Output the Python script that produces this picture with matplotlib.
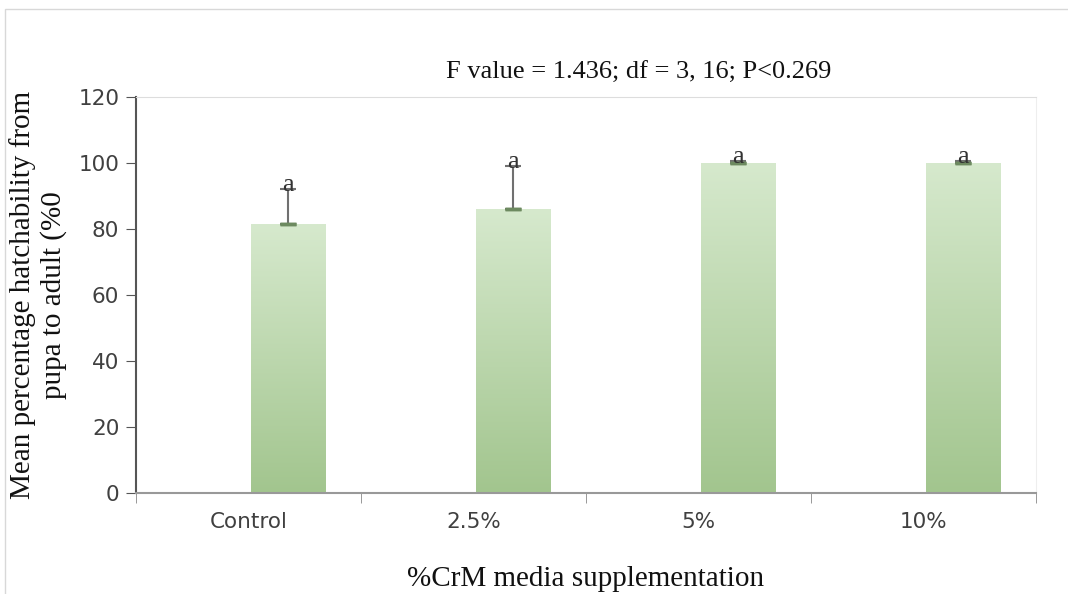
import numpy as np
import matplotlib.pyplot as plt
from matplotlib.colors import LinearSegmentedColormap
from matplotlib.patches import Rectangle

categories = ["Control", "2.5%", "5%", "10%"]
means = [81.5, 86.0, 100.0, 100.0]
errors = [10.5, 13.0, 0.6, 0.6]
letters = ["a", "a", "a", "a"]
yticks = [0, 20, 40, 60, 80, 100, 120]

fig = plt.figure(figsize=(10.68, 5.94), dpi=100)
ax = fig.add_axes([0.1273, 0.170, 0.8427, 0.6667])

# faint outer frame
fig.patches.append(Rectangle((5 / 1068, -0.1), 1.2, 1 - 9 / 594 + 0.1,
                             transform=fig.transFigure, fill=False,
                             edgecolor="#d8d8d8", linewidth=1.0))

x = np.arange(len(categories))
# bars sit right of the category centre (empty second series in the original)
bx = x + 0.175
bars = ax.bar(bx, means, width=0.33, color="none", edgecolor="none", zorder=2)

cmap = LinearSegmentedColormap.from_list("grn", ["#a2c58e", "#d6e9cd"])
grad = np.linspace(0, 1, 256).reshape(-1, 1)
for b in bars:
    im = ax.imshow(grad, cmap=cmap, origin="lower", aspect="auto",
                   extent=[b.get_x(), b.get_x() + b.get_width(), 0, b.get_height()],
                   zorder=2)
    im.set_clip_path(b)

ax.errorbar(bx, means, yerr=[np.zeros(len(means)), errors], fmt="none",
            ecolor="#707070", elinewidth=1.5, capsize=6, capthick=1.5, zorder=3)
ax.errorbar(bx, means, yerr=[np.zeros(len(means)), np.zeros(len(means))], fmt="none",
            ecolor="#6d8a60", elinewidth=0, capsize=6, capthick=2.5, zorder=3)

for xi, m, e, lab in zip(bx, means, errors, letters):
    ax.text(xi, m + e - 2.0, lab, ha="center", va="bottom", fontsize=19,
            family="Liberation Serif", color="#333333", zorder=4)

ax.set_xlim(-0.5, len(categories) - 0.5)
ax.set_ylim(0, 120)
ax.set_yticks(yticks)
ax.set_xticks(x)
ax.set_xticklabels(categories)
ax.set_xticks(np.arange(len(categories) + 1) - 0.5, minor=True)
ax.tick_params(axis="x", which="major", length=0, pad=14, labelsize=15.5, labelcolor="#404040")
ax.tick_params(axis="x", which="minor", length=7, color="#888888", direction="out")
ax.tick_params(axis="y", length=7, color="#555555", labelsize=15.5, labelcolor="#404040", pad=5)

ax.spines["left"].set_color("#555555")
ax.spines["left"].set_linewidth(1.5)
ax.spines["bottom"].set_color("#999999")
ax.spines["bottom"].set_linewidth(1.5)
ax.spines["top"].set_color("#dddddd")
ax.spines["right"].set_color("#eeeeee")

ax.set_title("F value = 1.436; df = 3, 16; P<0.269", family="Liberation Serif",
             fontsize=19, pad=13, color="#111111", x=0.559)
ax.set_xlabel("%CrM media supplementation", family="Liberation Serif",
              fontsize=21, labelpad=24, color="#111111")
ax.set_ylabel("Mean percentage hatchability from\npupa to adult (%0", family="Liberation Serif",
              fontsize=21, labelpad=8, color="#111111", linespacing=1.2)

fig.savefig("out.png", dpi=100)
